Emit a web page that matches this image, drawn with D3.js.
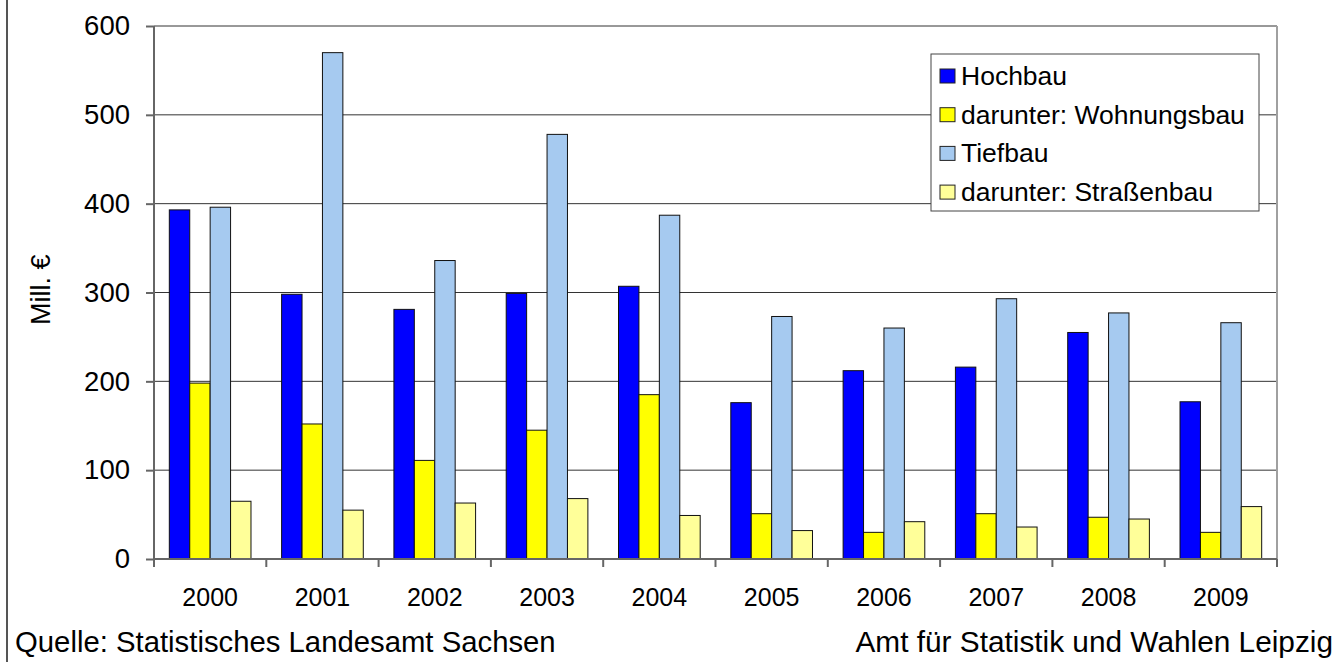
<!DOCTYPE html>
<html>
<head>
<meta charset="utf-8">
<script src="https://cdn.jsdelivr.net/npm/d3@7"></script>
<style>
  body { margin: 0; background: #fff; }
  svg { font-family: "Liberation Sans", Arial, sans-serif; }
</style>
</head>
<body>
<div id="chart"></div>
<script>
// data
var years = ["2000", "2001", "2002", "2003", "2004", "2005", "2006", "2007", "2008", "2009"];
var seriesNames = ["Hochbau", "darunter: Wohnungsbau", "Tiefbau", "darunter: Straßenbau"];
var hochbau     = [393, 298, 281, 299, 307, 176, 212, 216, 255, 177];
var wohnungsbau = [198, 152, 111, 145, 185, 51, 30, 51, 47, 30];
var tiefbau     = [396, 570, 336, 478, 387, 273, 260, 293, 277, 266];
var strassenbau = [65, 55, 63, 68, 49, 32, 42, 36, 45, 59];
var yTicks = [0, 100, 200, 300, 400, 500, 600];
var colors = ["#0000ff", "#ffff00", "#a6caf0", "#ffff99"];

var width = 1343, height = 662;
var margin = {left: 154, top: 26, right: 66, bottom: 103};

var svg = d3.select("#chart").append("svg").attr("width", width).attr("height", height);

var x = d3.scaleBand().domain(years).range([margin.left, width - margin.right]).padding(0);
var bw = x.bandwidth() / 5.5; // excel style: gap width 150%
var x1 = d3.scaleBand().domain(seriesNames).range([bw * 0.75, x.bandwidth() - bw * 0.75]);
var y = d3.scaleLinear().domain([0, 600]).range([height - margin.bottom, margin.top]);

var table = years.map(function(yr, i) {
    return {year: yr, values: [hochbau[i], wohnungsbau[i], tiefbau[i], strassenbau[i]]};
});

// outer frame line on the left
svg.append("line").attr("x1", 7).attr("x2", 7).attr("y1", 0).attr("y2", height)
    .attr("stroke", "#555").attr("stroke-width", 2);

// gridlines
svg.append("g").selectAll("line").data(yTicks.slice(1)).enter().append("line")
    .attr("x1", margin.left).attr("x2", width - margin.right)
    .attr("y1", function(d) { return y(d); }).attr("y2", function(d) { return y(d); })
    .attr("stroke", "#333").attr("stroke-width", 1);

// right border of plot area
svg.append("line").attr("x1", width - margin.right).attr("x2", width - margin.right)
    .attr("y1", margin.top).attr("y2", y(0)).attr("stroke", "#a0a0a0").attr("stroke-width", 2);

// bars
var groups = svg.append("g").selectAll("g").data(table).enter().append("g")
    .attr("transform", function(d) { return "translate(" + x(d.year) + ",0)"; });

groups.selectAll("rect").data(function(d) {
        return d.values.map(function(v, j) { return {name: seriesNames[j], value: v, idx: j}; });
    }).enter().append("rect")
    .attr("x", function(d) { return x1(d.name); })
    .attr("width", x1.bandwidth())
    .attr("y", function(d) { return y(d.value); })
    .attr("height", function(d) { return y(0) - y(d.value); })
    .attr("fill", function(d) { return colors[d.idx]; })
    .attr("stroke", "#111").attr("stroke-width", 1);

// y axis
var yAxis = svg.append("g").attr("transform", "translate(" + margin.left + ",0)")
    .call(d3.axisLeft(y).tickValues(yTicks).tickSize(8).tickPadding(16));
yAxis.selectAll("path, line").attr("stroke", "#666").attr("stroke-width", 2);
yAxis.select(".domain").attr("d", "M0," + y(600) + "V" + y(0));
yAxis.selectAll("text").style("font-size", "27.5px").attr("fill", "#000");

// x axis
var xAxis = svg.append("g").attr("transform", "translate(0," + y(0) + ")")
    .call(d3.axisBottom(x).tickSize(0).tickPadding(29));
xAxis.select(".domain").attr("stroke", "#666").attr("stroke-width", 2)
    .attr("d", "M" + margin.left + ",0H" + (width - margin.right));
xAxis.selectAll("text").style("font-size", "25px").attr("fill", "#000");
svg.append("g").selectAll("line").data(d3.range(years.length + 1)).enter().append("line")
    .attr("x1", function(i) { return margin.left + i * x.bandwidth(); })
    .attr("x2", function(i) { return margin.left + i * x.bandwidth(); })
    .attr("y1", y(0)).attr("y2", y(0) + 8)
    .attr("stroke", "#666").attr("stroke-width", 2);

// y axis title
svg.append("text").attr("transform", "translate(50," + y(303) + ") rotate(-90)")
    .attr("text-anchor", "middle").style("font-size", "27px").text("Mill. €");

// legend
var legX = 931, legY = 54;
svg.append("rect").attr("x", legX).attr("y", legY).attr("width", 328).attr("height", 157)
    .attr("fill", "#fff").attr("stroke", "#444").attr("stroke-width", 1);
var legend = svg.append("g").selectAll("g").data(seriesNames).enter().append("g")
    .attr("transform", function(d, i) { return "translate(" + (legX + 9) + "," + (legY + 22 + i * 38.7) + ")"; });
legend.append("rect").attr("x", 0).attr("y", -7).attr("width", 15).attr("height", 14)
    .attr("fill", function(d, i) { return colors[i]; }).attr("stroke", "#222");
legend.append("text").attr("x", 21).attr("y", 9).style("font-size", "26.5px").text(function(d) { return d; });

// footer
svg.append("text").attr("x", 15).attr("y", 652).style("font-size", "29.3px")
    .text("Quelle: Statistisches Landesamt Sachsen");
svg.append("text").attr("x", 1333).attr("y", 652).attr("text-anchor", "end").style("font-size", "29.8px")
    .text("Amt für Statistik und Wahlen Leipzig");
</script>
</body>
</html>
